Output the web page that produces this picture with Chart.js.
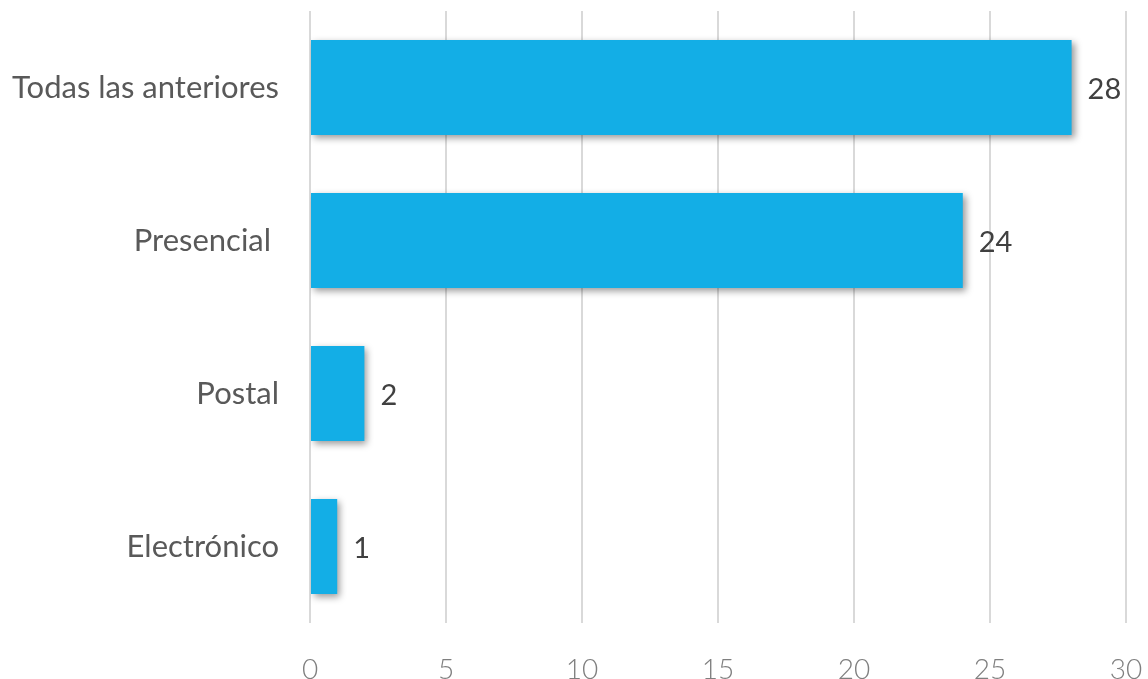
<!DOCTYPE html>
<html><head><meta charset="utf-8">
<script src="https://cdn.jsdelivr.net/npm/chart.js@4"></script>
<style>html,body{margin:0;padding:0;background:#fff}#wrap{width:1148px;height:679px}</style>
</head><body><div id="wrap"><canvas id="c" width="1148" height="679"></canvas></div>
<script>
const categories = ["Todas las anteriores", "Presencial ", "Postal", "Electrónico"];
const values = [28, 24, 2, 1];
const xTicks = [0, 5, 10, 15, 20, 25, 30];

const FONT = "Lato, 'Noto Sans', sans-serif";

const shadowPlugin = {
  id: 'shadow',
  beforeDatasetsDraw(chart) {
    const ctx = chart.ctx; ctx.save();
    ctx.shadowColor = 'rgba(0,0,0,0.4)'; ctx.shadowBlur = 7; ctx.shadowOffsetX = 3; ctx.shadowOffsetY = 3;
  },
  afterDatasetsDraw(chart) {
    chart.ctx.restore();
    const ctx = chart.ctx; ctx.save();
    ctx.font = "29px " + FONT; ctx.fillStyle = '#404040'; ctx.textAlign = 'left'; ctx.textBaseline = 'middle';
    chart.getDatasetMeta(0).data.forEach((bar, i) => {
      ctx.fillText(String(values[i]), bar.x + 16, bar.y + 2);
    });
    ctx.restore();
  }
};

new Chart(document.getElementById('c'), {
  type: 'bar',
  data: { labels: categories, datasets: [{ data: values, backgroundColor: '#13AEE6', borderWidth: 0, categoryPercentage: 1, barPercentage: 0.62 }] },
  options: {
    indexAxis: 'y', responsive: false, animation: false,
    layout: { padding: { top: 11, right: 22, left: 0, bottom: 0 } },
    plugins: { legend: { display: false }, tooltip: { enabled: false } },
    scales: {
      x: {
        min: 0, max: 30,
        afterBuildTicks(s) { s.ticks = xTicks.map(v => ({ value: v })); },
        afterFit(s) { s.height = 679 - 623; s.paddingLeft = 0; s.paddingRight = 0; },
        grid: { color: '#d9d9d9', lineWidth: 2, drawTicks: false },
        border: { display: false },
        ticks: { padding: 30, color: '#7f7f7f', font: { family: FONT, size: 28, weight: 300 } }
      },
      y: {
        afterFit(s) { s.width = 310; s.paddingTop = 0; s.paddingBottom = 0; },
        grid: { display: false, drawTicks: false },
        border: { display: false },
        ticks: { padding: 31, color: '#595959', font: { family: FONT, size: 31 } }
      }
    }
  },
  plugins: [shadowPlugin]
});
</script></body></html>
